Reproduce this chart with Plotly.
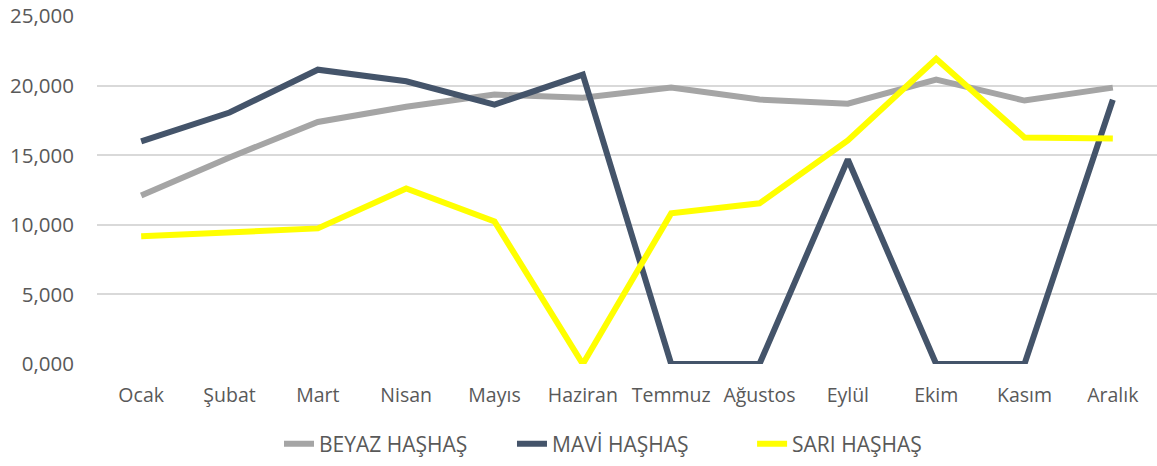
import plotly.graph_objects as go

months = ["Ocak", "Şubat", "Mart", "Nisan", "Mayıs", "Haziran", "Temmuz",
          "Ağustos", "Eylül", "Ekim", "Kasım", "Aralık"]
beyaz = [12.12, 14.85, 17.40, 18.50, 19.37, 19.15, 19.87, 19.01, 18.72, 20.44, 18.94, 19.87]
mavi = [16.00, 18.08, 21.16, 20.33, 18.65, 20.80, 0.0, 0.0, 14.70, 0.0, 0.0, 19.00]
sari = [9.18, 9.47, 9.75, 12.62, 10.25, 0.0, 10.83, 11.55, 16.07, 21.95, 16.29, 16.21]
series_names = ["BEYAZ HAŞHAŞ", "MAVİ HAŞHAŞ", "SARI HAŞHAŞ"]
y_ticks = [0, 5, 10, 15, 20, 25]

colors = ["#A5A5A5", "#44546A", "#FFFF00"]
legend_ids = ["legend", "legend2", "legend3"]
legend_x = [0.1717, 0.3915, 0.618]

fig = go.Figure()
for name, vals, col, lg in zip(series_names, [beyaz, mavi, sari], colors, legend_ids):
    fig.add_trace(go.Scatter(
        x=months, y=vals, name=name, mode="lines", legend=lg,
        line=dict(color=col, width=6),
    ))

font_family = "Open Sans, Noto Sans, sans-serif"
fs = 19.5
legend_common = dict(orientation="h", xanchor="left", y=-0.23, yanchor="middle",
                     font=dict(size=21, color="#595959"), itemwidth=30,
                     bgcolor="rgba(0,0,0,0)")
fig.update_layout(
    width=1157, height=466,
    margin=dict(l=97, r=0, t=16, b=102, autoexpand=False),
    paper_bgcolor="white", plot_bgcolor="white",
    separators=",.",
    font=dict(family=font_family, size=fs, color="#595959"),
    showlegend=True,
    legend=dict(x=legend_x[0], **legend_common),
    legend2=dict(x=legend_x[1], **legend_common),
    legend3=dict(x=legend_x[2], **legend_common),
    xaxis=dict(showgrid=False, showline=False, zeroline=False, ticks="",
               range=[-0.5, 11.5], automargin=False,
               ticklabelstandoff=17, tickfont=dict(size=fs, color="#595959")),
    yaxis=dict(range=[0, 25.02], tickvals=y_ticks, tickformat=".3f",
               showgrid=True, gridcolor="#D9D9D9", gridwidth=1.5,
               zeroline=False, showline=False, ticks="", automargin=False,
               ticklabelstandoff=22, tickfont=dict(size=20.5, color="#595959")),
)
fig.write_html("out.html", config={"displayModeBar": False},
               post_script="document.body.style.margin='0px';document.body.style.overflow='hidden';")
